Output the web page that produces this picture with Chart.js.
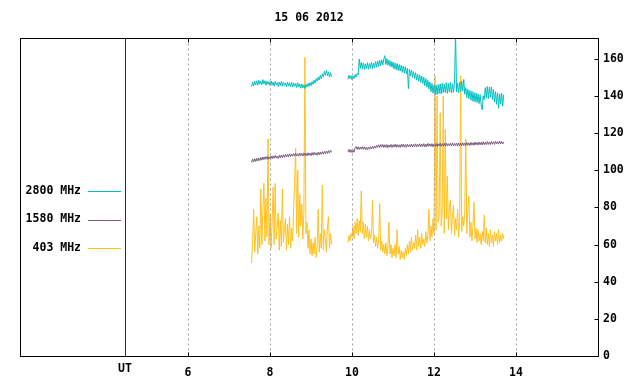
<!DOCTYPE html>
<html lang="en">
<head>
<meta charset="UTF-8">
<title>15 06 2012</title>
<script src="https://cdn.jsdelivr.net/npm/chart.js"></script>
<style>
  html, body { margin: 0; padding: 0; background: #fff; }
</style>
</head>
<body>
<canvas id="fluxChart" width="640" height="384"></canvas>

<script>
    // chart text and axes
    var title = '15 06 2012';
    var seriesLabels = ['2800 MHz', '1580 MHz', '403 MHz'];
    var seriesColors = ['#00c0c0', '#7b5c7b', '#ffc020'];
    var xTicks = [6, 8, 10, 12, 14];
    var yTicks = [0, 20, 40, 60, 80, 100, 120, 140, 160];
    var utLabel = 'UT';
    var utPos = 4.46;

    // sampling: two recording blocks, one value every 0.025 h (1.5 min)
    var startA = 7.55, startB = 9.90, step = 0.025;

    // 2800 MHz
    var f2800a = [145.2, 147.6, 145.5, 148.0, 146.0, 148.3, 145.8, 148.6, 146.4, 148.1,
                  146.2, 148.9, 146.5, 148.3, 145.9, 148.0, 146.3, 147.8, 145.6, 148.2,
                  145.9, 147.5, 145.4, 147.9, 146.1, 147.3, 145.2, 147.6, 145.7, 147.9,
                  145.3, 147.4, 145.8, 147.1, 144.9, 147.6, 145.4, 147.2, 145.0, 147.5,
                  144.8, 147.0, 145.3, 146.8, 144.6, 147.2, 144.9, 146.5, 144.2, 146.6,
                  144.4, 146.1, 144.0, 146.3, 144.8, 146.9, 145.2, 147.3, 145.6, 147.8,
                  146.3, 148.6, 147.0, 149.4, 148.0, 150.3, 148.6, 151.2, 149.3, 152.0,
                  150.4, 153.4, 151.2, 153.8, 150.9, 153.1, 150.2, 152.6, 150.5];
    var f2800b = [149.0, 151.3, 149.4, 151.0, 148.8, 150.9, 149.5, 151.6, 150.2, 152.3,
                  151.4, 160.0, 155.0, 158.2, 154.6, 157.9, 154.3, 157.4, 154.8, 158.0,
                  154.5, 157.6, 155.0, 158.3, 154.7, 157.8, 155.3, 158.6, 155.6, 159.0,
                  156.0, 159.2, 156.4, 159.6, 156.8, 159.9, 161.8, 157.0, 160.2, 156.6,
                  159.4, 156.0, 158.8, 155.5, 158.4, 154.6, 157.9, 154.2, 157.5, 153.8,
                  157.0, 153.5, 156.6, 152.8, 156.2, 152.4, 155.8, 151.9, 155.0, 144.0,
                  154.6, 150.8, 154.0, 150.2, 153.2, 149.5, 152.6, 148.6, 151.8, 148.0,
                  151.4, 147.4, 150.8, 146.8, 150.2, 145.6, 149.4, 144.8, 148.5, 143.9,
                  147.6, 142.4, 146.8, 141.6, 146.0, 141.0, 145.8, 140.8, 146.2, 141.4,
                  146.6, 141.2, 147.0, 141.8, 146.4, 142.0, 147.2, 141.5, 146.8, 142.2,
                  147.4, 141.6, 146.6, 142.0, 147.5, 175.0, 142.3, 146.9, 141.8, 147.6,
                  142.4, 148.2, 142.8, 149.0, 141.0, 144.6, 139.2, 143.8, 138.6, 143.0,
                  137.8, 142.6, 137.2, 142.0, 136.8, 141.6, 136.5, 141.2, 136.0, 140.8,
                  135.4, 132.5, 140.2, 138.0, 144.6, 139.0, 145.2, 138.6, 144.8, 139.4,
                  145.0, 138.2, 143.6, 136.8, 142.4, 135.6, 141.8, 133.5, 141.2, 135.8,
                  141.5, 134.6, 140.8];

    // 1580 MHz
    var f1580a = [104.3, 106.1, 104.6, 106.3, 104.8, 106.5, 105.0, 106.6, 105.3, 107.0,
                  105.5, 107.2, 105.8, 107.3, 106.0, 107.5, 105.9, 107.3, 106.2, 107.7,
                  106.3, 107.8, 106.5, 108.0, 106.6, 107.7, 106.4, 108.1, 106.7, 108.3,
                  106.9, 108.4, 107.0, 108.6, 107.2, 108.7, 107.4, 108.9, 107.5, 108.8,
                  107.6, 109.1, 107.7, 109.2, 107.8, 109.0, 107.6, 109.3, 107.9, 109.1,
                  107.7, 109.4, 108.0, 109.2, 107.8, 109.5, 108.1, 109.3, 107.9, 109.6,
                  108.2, 109.7, 108.3, 109.5, 108.1, 109.8, 108.4, 109.9, 108.6, 110.1,
                  108.7, 110.2, 108.9, 110.4, 109.1, 110.6, 109.3, 110.9, 109.7];
    var f1580b = [109.9, 111.3, 109.7, 111.1, 109.6, 111.0, 109.8, 112.1, 112.8, 111.3,
                  112.7, 111.2, 112.6, 111.4, 112.8, 111.3, 112.7, 111.2, 112.5, 111.1,
                  112.6, 111.3, 112.8, 111.5, 112.9, 111.7, 113.2, 112.0, 113.5, 112.3,
                  113.8, 112.4, 113.9, 112.5, 114.0, 112.3, 113.8, 112.4, 113.9, 112.2,
                  113.7, 112.5, 114.0, 112.3, 113.8, 112.6, 114.1, 112.4, 113.9, 112.5,
                  113.8, 112.3, 114.0, 112.6, 114.2, 112.5, 113.9, 112.4, 114.1, 112.6,
                  113.9, 112.7, 114.2, 112.5, 114.0, 112.8, 114.3, 112.6, 114.1, 112.9,
                  114.3, 112.7, 114.1, 112.9, 114.4, 112.6, 114.2, 112.8, 114.5, 113.0,
                  114.3, 112.9, 114.4, 112.7, 114.2, 113.0, 114.5, 112.8, 114.3, 113.1,
                  114.6, 112.9, 114.4, 113.2, 114.5, 113.0, 114.7, 113.1, 114.4, 113.3,
                  114.6, 113.1, 114.8, 113.2, 114.5, 113.3, 114.7, 113.0, 114.8, 113.3,
                  114.6, 113.2, 114.9, 113.4, 114.7, 113.3, 115.0, 113.5, 114.8, 113.4,
                  115.1, 113.6, 114.9, 113.5, 115.2, 113.7, 115.0, 113.6, 115.3, 113.8,
                  115.1, 113.7, 115.4, 113.9, 115.2, 113.8, 115.5, 114.0, 115.3, 113.9,
                  115.6, 114.1, 115.4, 114.0, 115.7, 114.2, 115.5, 114.1, 115.8, 114.3,
                  115.6, 114.2, 115.3];

    // 403 MHz
    var f403a = [50, 62, 79, 56, 66, 75, 55, 70, 58, 90,
                 60, 78, 93, 62, 85, 64, 117, 60, 76, 58,
                 72, 91, 60, 93, 63, 70, 77, 57, 73, 59,
                 90, 61, 68, 74, 57, 71, 60, 75, 58, 69,
                 62, 80, 94, 112, 66, 100, 64, 87, 70, 82,
                 63, 78, 161, 66, 72, 58, 68, 55, 63, 54,
                 61, 55, 64, 53, 60, 79, 56, 66, 58, 92,
                 57, 68, 62, 56, 70, 75, 58, 66, 60];
    var f403b = [61, 65, 62, 66, 64, 70, 63, 72, 66, 74,
                 65, 73, 67, 89, 66, 72, 63, 71, 64, 70,
                 62, 68, 63, 66, 84, 61, 65, 59, 64, 58,
                 63, 82, 57, 62, 56, 60, 55, 61, 54, 59,
                 72, 55, 60, 53, 58, 54, 60, 53, 68, 55,
                 59, 52, 57, 53, 56, 52, 58, 54, 60, 55,
                 62, 56, 64, 57, 61, 58, 65, 57, 68, 59,
                 64, 58, 66, 60, 63, 59, 67, 61, 65, 79,
                 62, 70, 64, 74, 66, 151, 68, 140, 72, 75,
                 131, 70, 78, 140, 66, 122, 74, 97, 68, 80,
                 84, 66, 76, 81, 65, 74, 68, 79, 64, 72,
                 151, 67, 75, 70, 78, 117, 66, 79, 86, 64,
                 72, 62, 70, 83, 63, 69, 61, 68, 62, 66,
                 60, 67, 62, 76, 61, 69, 60, 66, 59, 68,
                 61, 65, 59, 67, 62, 66, 60, 68, 61, 65,
                 62, 66, 63];

    function toPoints(a, b) {
        var pts = [];
        a.forEach(function(v, i) { pts.push({x: startA + i * step, y: v}); });
        pts.push({x: (startA + (a.length - 1) * step + startB) / 2, y: null}); // data gap
        b.forEach(function(v, i) { pts.push({x: startB + i * step, y: v}); });
        return pts;
    }

    var seriesData = [toPoints(f2800a, f2800b), toPoints(f1580a, f1580b), toPoints(f403a, f403b)];

    var FONT = '"DejaVu Sans Mono", monospace';
    Chart.defaults.font.family = FONT;
    Chart.defaults.font.size = 11.5;
    Chart.defaults.font.weight = 'bold';
    Chart.defaults.color = '#000';

    function vline(ctx, x, y0, y1) {
        ctx.beginPath();
        ctx.moveTo(x, y0);
        ctx.lineTo(x, y1);
        ctx.stroke();
    }
    function hline(ctx, x0, x1, y) {
        ctx.beginPath();
        ctx.moveTo(x0, y);
        ctx.lineTo(x1, y);
        ctx.stroke();
    }

    // grid, frame, legend and title drawn gnuplot style
    var frame = {
        id: 'frame',
        afterDatasetsDraw: function(chart) {
            var ctx = chart.ctx, a = chart.chartArea;
            var sx = chart.scales.x, sy = chart.scales.y;
            var L = Math.round(a.left) + 0.5, R = Math.round(a.right) + 0.5;
            var T = Math.round(a.top) + 0.5, B = Math.round(a.bottom) + 0.5;
            ctx.save();
            ctx.lineWidth = 1;

            ctx.strokeStyle = '#a0a0a0';
            ctx.setLineDash([2, 3]);
            xTicks.forEach(function(v) {
                vline(ctx, Math.round(sx.getPixelForValue(v)) + 0.5, T, B);
            });
            ctx.setLineDash([]);

            ctx.strokeStyle = '#a00000';
            vline(ctx, Math.round(sx.getPixelForValue(utPos)) + 0.5, T, B);

            ctx.strokeStyle = '#000';
            ctx.strokeRect(L, T, R - L, B - T);
            xTicks.forEach(function(v) {
                var px = Math.round(sx.getPixelForValue(v)) + 0.5;
                vline(ctx, px, B, B - 4);
                vline(ctx, px, T, T + 4);
            });
            yTicks.forEach(function(v) {
                var py = Math.round(sy.getPixelForValue(v)) + 0.5;
                hline(ctx, R, R - 4, py);
            });

            ctx.font = 'bold 11.5px ' + FONT;
            ctx.fillStyle = '#000';
            ctx.textBaseline = 'middle';
            ctx.textAlign = 'center';
            ctx.fillText(title, (a.left + a.right) / 2, 18);
            ctx.fillText(utLabel, sx.getPixelForValue(utPos), 369);

            ctx.textAlign = 'right';
            seriesLabels.forEach(function(lab, i) {
                var y = 191 + i * 28.5;
                ctx.fillText(lab, 81, y);
                ctx.strokeStyle = seriesColors[i];
                hline(ctx, 88, 121, Math.round(y) + 0.5);
            });
            ctx.restore();
        }
    };

    new Chart(document.getElementById('fluxChart').getContext('2d'), {
        type: 'line',
        data: {
            datasets: seriesLabels.map(function(lab, i) {
                return {
                    label: lab,
                    data: seriesData[i],
                    borderColor: seriesColors[i],
                    borderWidth: 1,
                    pointRadius: 0,
                    tension: 0,
                    fill: false
                };
            })
        },
        options: {
            responsive: false,
            animation: false,
            layout: { padding: { top: 38, left: 20 } },
            plugins: {
                legend: { display: false },
                title: { display: false },
                tooltip: { enabled: false }
            },
            scales: {
                x: {
                    type: 'linear',
                    min: 1.9,
                    max: 16,
                    grid: { display: false, drawTicks: false },
                    border: { display: false },
                    afterBuildTicks: function(s) {
                        s.ticks = xTicks.map(function(v) { return {value: v}; });
                    },
                    afterFit: function(s) { s.height = 28; },
                    ticks: {
                        autoSkip: false,
                        maxRotation: 0,
                        padding: 10,
                        callback: function(v) { return String(v); }
                    }
                },
                y: {
                    position: 'right',
                    min: 0,
                    max: 171.3,
                    grid: { display: false, drawTicks: false },
                    border: { display: false },
                    afterBuildTicks: function(s) {
                        s.ticks = yTicks.map(function(v) { return {value: v}; });
                    },
                    afterFit: function(s) { s.width = 42; },
                    ticks: {
                        padding: 5,
                        callback: function(v) { return String(v); }
                    }
                }
            }
        },
        plugins: [frame]
    });
</script>
</body>
</html>
